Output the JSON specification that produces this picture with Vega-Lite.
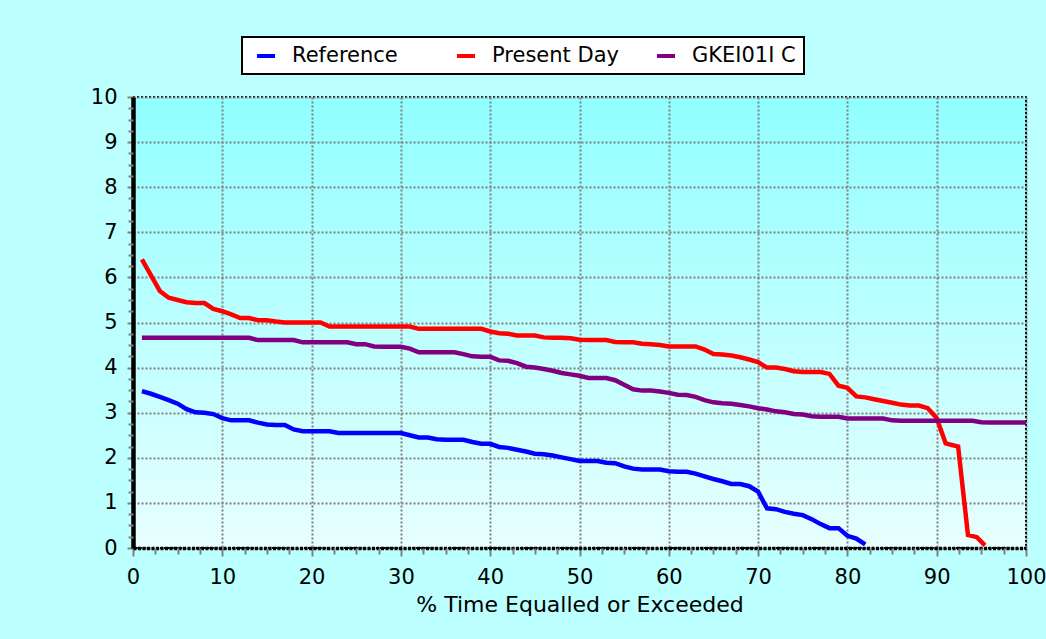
{
  "$schema": "https://vega.github.io/schema/vega-lite/v6.json",
  "width": 893,
  "height": 451,
  "autosize": {"type": "none"},
  "padding": {"left": 133, "top": 97, "right": 20, "bottom": 91},
  "background": "#BCFFFF",
  "config": {
    "font": "DejaVu Sans",
    "view": {
      "fill": {"gradient": "linear", "x1": 0, "y1": 0, "x2": 0, "y2": 1, "stops": [{"offset": 0, "color": "#90FFFF"}, {"offset": 1, "color": "#E8FFFF"}]},
      "stroke": "#000000",
      "strokeDash": [2, 2],
      "strokeWidth": 2
    },
    "legend": {"strokeWidth": 2}
  },
  "data": {
    "values": [
      {"series": "Reference", "pct": 1, "flow": 3.48},
      {"series": "Reference", "pct": 2, "flow": 3.42},
      {"series": "Reference", "pct": 3, "flow": 3.35},
      {"series": "Reference", "pct": 4, "flow": 3.28},
      {"series": "Reference", "pct": 5, "flow": 3.2},
      {"series": "Reference", "pct": 6, "flow": 3.08},
      {"series": "Reference", "pct": 7, "flow": 3.01},
      {"series": "Reference", "pct": 8, "flow": 3.0},
      {"series": "Reference", "pct": 9, "flow": 2.97},
      {"series": "Reference", "pct": 10, "flow": 2.88},
      {"series": "Reference", "pct": 11, "flow": 2.83},
      {"series": "Reference", "pct": 12, "flow": 2.83},
      {"series": "Reference", "pct": 13, "flow": 2.83},
      {"series": "Reference", "pct": 14, "flow": 2.78},
      {"series": "Reference", "pct": 15, "flow": 2.74},
      {"series": "Reference", "pct": 16, "flow": 2.73},
      {"series": "Reference", "pct": 17, "flow": 2.73},
      {"series": "Reference", "pct": 18, "flow": 2.63},
      {"series": "Reference", "pct": 19, "flow": 2.59},
      {"series": "Reference", "pct": 20, "flow": 2.59},
      {"series": "Reference", "pct": 21, "flow": 2.59},
      {"series": "Reference", "pct": 22, "flow": 2.59},
      {"series": "Reference", "pct": 23, "flow": 2.55},
      {"series": "Reference", "pct": 24, "flow": 2.55},
      {"series": "Reference", "pct": 25, "flow": 2.55},
      {"series": "Reference", "pct": 26, "flow": 2.55},
      {"series": "Reference", "pct": 27, "flow": 2.55},
      {"series": "Reference", "pct": 28, "flow": 2.55},
      {"series": "Reference", "pct": 29, "flow": 2.55},
      {"series": "Reference", "pct": 30, "flow": 2.55},
      {"series": "Reference", "pct": 31, "flow": 2.5},
      {"series": "Reference", "pct": 32, "flow": 2.45},
      {"series": "Reference", "pct": 33, "flow": 2.45},
      {"series": "Reference", "pct": 34, "flow": 2.41},
      {"series": "Reference", "pct": 35, "flow": 2.4},
      {"series": "Reference", "pct": 36, "flow": 2.4},
      {"series": "Reference", "pct": 37, "flow": 2.4},
      {"series": "Reference", "pct": 38, "flow": 2.35},
      {"series": "Reference", "pct": 39, "flow": 2.31},
      {"series": "Reference", "pct": 40, "flow": 2.31},
      {"series": "Reference", "pct": 41, "flow": 2.24},
      {"series": "Reference", "pct": 42, "flow": 2.22},
      {"series": "Reference", "pct": 43, "flow": 2.18},
      {"series": "Reference", "pct": 44, "flow": 2.14},
      {"series": "Reference", "pct": 45, "flow": 2.09},
      {"series": "Reference", "pct": 46, "flow": 2.08},
      {"series": "Reference", "pct": 47, "flow": 2.05},
      {"series": "Reference", "pct": 48, "flow": 2.01},
      {"series": "Reference", "pct": 49, "flow": 1.97},
      {"series": "Reference", "pct": 50, "flow": 1.93},
      {"series": "Reference", "pct": 51, "flow": 1.93},
      {"series": "Reference", "pct": 52, "flow": 1.93},
      {"series": "Reference", "pct": 53, "flow": 1.89},
      {"series": "Reference", "pct": 54, "flow": 1.88},
      {"series": "Reference", "pct": 55, "flow": 1.81},
      {"series": "Reference", "pct": 56, "flow": 1.76},
      {"series": "Reference", "pct": 57, "flow": 1.74},
      {"series": "Reference", "pct": 58, "flow": 1.74},
      {"series": "Reference", "pct": 59, "flow": 1.74},
      {"series": "Reference", "pct": 60, "flow": 1.7},
      {"series": "Reference", "pct": 61, "flow": 1.69},
      {"series": "Reference", "pct": 62, "flow": 1.69},
      {"series": "Reference", "pct": 63, "flow": 1.65},
      {"series": "Reference", "pct": 64, "flow": 1.59},
      {"series": "Reference", "pct": 65, "flow": 1.53},
      {"series": "Reference", "pct": 66, "flow": 1.48},
      {"series": "Reference", "pct": 67, "flow": 1.42},
      {"series": "Reference", "pct": 68, "flow": 1.42},
      {"series": "Reference", "pct": 69, "flow": 1.37},
      {"series": "Reference", "pct": 70, "flow": 1.25},
      {"series": "Reference", "pct": 71, "flow": 0.88},
      {"series": "Reference", "pct": 72, "flow": 0.86},
      {"series": "Reference", "pct": 73, "flow": 0.8},
      {"series": "Reference", "pct": 74, "flow": 0.76},
      {"series": "Reference", "pct": 75, "flow": 0.73},
      {"series": "Reference", "pct": 76, "flow": 0.64},
      {"series": "Reference", "pct": 77, "flow": 0.53},
      {"series": "Reference", "pct": 78, "flow": 0.44},
      {"series": "Reference", "pct": 79, "flow": 0.44},
      {"series": "Reference", "pct": 80, "flow": 0.27},
      {"series": "Reference", "pct": 81, "flow": 0.21},
      {"series": "Reference", "pct": 82, "flow": 0.08},
      {"series": "Present Day", "pct": 1, "flow": 6.4},
      {"series": "Present Day", "pct": 2, "flow": 6.05},
      {"series": "Present Day", "pct": 3, "flow": 5.7},
      {"series": "Present Day", "pct": 4, "flow": 5.55},
      {"series": "Present Day", "pct": 5, "flow": 5.5},
      {"series": "Present Day", "pct": 6, "flow": 5.45},
      {"series": "Present Day", "pct": 7, "flow": 5.43},
      {"series": "Present Day", "pct": 8, "flow": 5.43},
      {"series": "Present Day", "pct": 9, "flow": 5.3},
      {"series": "Present Day", "pct": 10, "flow": 5.25},
      {"series": "Present Day", "pct": 11, "flow": 5.18},
      {"series": "Present Day", "pct": 12, "flow": 5.1},
      {"series": "Present Day", "pct": 13, "flow": 5.1},
      {"series": "Present Day", "pct": 14, "flow": 5.05},
      {"series": "Present Day", "pct": 15, "flow": 5.05},
      {"series": "Present Day", "pct": 16, "flow": 5.02},
      {"series": "Present Day", "pct": 17, "flow": 5.0},
      {"series": "Present Day", "pct": 18, "flow": 5.0},
      {"series": "Present Day", "pct": 19, "flow": 5.0},
      {"series": "Present Day", "pct": 20, "flow": 5.0},
      {"series": "Present Day", "pct": 21, "flow": 5.0},
      {"series": "Present Day", "pct": 22, "flow": 4.91},
      {"series": "Present Day", "pct": 23, "flow": 4.91},
      {"series": "Present Day", "pct": 24, "flow": 4.91},
      {"series": "Present Day", "pct": 25, "flow": 4.91},
      {"series": "Present Day", "pct": 26, "flow": 4.91},
      {"series": "Present Day", "pct": 27, "flow": 4.91},
      {"series": "Present Day", "pct": 28, "flow": 4.91},
      {"series": "Present Day", "pct": 29, "flow": 4.91},
      {"series": "Present Day", "pct": 30, "flow": 4.91},
      {"series": "Present Day", "pct": 31, "flow": 4.91},
      {"series": "Present Day", "pct": 32, "flow": 4.86},
      {"series": "Present Day", "pct": 33, "flow": 4.86},
      {"series": "Present Day", "pct": 34, "flow": 4.86},
      {"series": "Present Day", "pct": 35, "flow": 4.86},
      {"series": "Present Day", "pct": 36, "flow": 4.86},
      {"series": "Present Day", "pct": 37, "flow": 4.86},
      {"series": "Present Day", "pct": 38, "flow": 4.86},
      {"series": "Present Day", "pct": 39, "flow": 4.86},
      {"series": "Present Day", "pct": 40, "flow": 4.8},
      {"series": "Present Day", "pct": 41, "flow": 4.76},
      {"series": "Present Day", "pct": 42, "flow": 4.75},
      {"series": "Present Day", "pct": 43, "flow": 4.71},
      {"series": "Present Day", "pct": 44, "flow": 4.71},
      {"series": "Present Day", "pct": 45, "flow": 4.71},
      {"series": "Present Day", "pct": 46, "flow": 4.67},
      {"series": "Present Day", "pct": 47, "flow": 4.66},
      {"series": "Present Day", "pct": 48, "flow": 4.66},
      {"series": "Present Day", "pct": 49, "flow": 4.65},
      {"series": "Present Day", "pct": 50, "flow": 4.62},
      {"series": "Present Day", "pct": 51, "flow": 4.61},
      {"series": "Present Day", "pct": 52, "flow": 4.61},
      {"series": "Present Day", "pct": 53, "flow": 4.61},
      {"series": "Present Day", "pct": 54, "flow": 4.57},
      {"series": "Present Day", "pct": 55, "flow": 4.56},
      {"series": "Present Day", "pct": 56, "flow": 4.56},
      {"series": "Present Day", "pct": 57, "flow": 4.53},
      {"series": "Present Day", "pct": 58, "flow": 4.52},
      {"series": "Present Day", "pct": 59, "flow": 4.5},
      {"series": "Present Day", "pct": 60, "flow": 4.47},
      {"series": "Present Day", "pct": 61, "flow": 4.47},
      {"series": "Present Day", "pct": 62, "flow": 4.47},
      {"series": "Present Day", "pct": 63, "flow": 4.47},
      {"series": "Present Day", "pct": 64, "flow": 4.4},
      {"series": "Present Day", "pct": 65, "flow": 4.3},
      {"series": "Present Day", "pct": 66, "flow": 4.29},
      {"series": "Present Day", "pct": 67, "flow": 4.27},
      {"series": "Present Day", "pct": 68, "flow": 4.23},
      {"series": "Present Day", "pct": 69, "flow": 4.18},
      {"series": "Present Day", "pct": 70, "flow": 4.12},
      {"series": "Present Day", "pct": 71, "flow": 4.0},
      {"series": "Present Day", "pct": 72, "flow": 4.0},
      {"series": "Present Day", "pct": 73, "flow": 3.97},
      {"series": "Present Day", "pct": 74, "flow": 3.92},
      {"series": "Present Day", "pct": 75, "flow": 3.9},
      {"series": "Present Day", "pct": 76, "flow": 3.9},
      {"series": "Present Day", "pct": 77, "flow": 3.9},
      {"series": "Present Day", "pct": 78, "flow": 3.86},
      {"series": "Present Day", "pct": 79, "flow": 3.6},
      {"series": "Present Day", "pct": 80, "flow": 3.55},
      {"series": "Present Day", "pct": 81, "flow": 3.36},
      {"series": "Present Day", "pct": 82, "flow": 3.34},
      {"series": "Present Day", "pct": 83, "flow": 3.3},
      {"series": "Present Day", "pct": 84, "flow": 3.26},
      {"series": "Present Day", "pct": 85, "flow": 3.22},
      {"series": "Present Day", "pct": 86, "flow": 3.18},
      {"series": "Present Day", "pct": 87, "flow": 3.16},
      {"series": "Present Day", "pct": 88, "flow": 3.16},
      {"series": "Present Day", "pct": 89, "flow": 3.1},
      {"series": "Present Day", "pct": 90, "flow": 2.88},
      {"series": "Present Day", "pct": 91, "flow": 2.32},
      {"series": "Present Day", "pct": 92.4, "flow": 2.25},
      {"series": "Present Day", "pct": 93.5, "flow": 0.29},
      {"series": "Present Day", "pct": 94.5, "flow": 0.24},
      {"series": "Present Day", "pct": 95.4, "flow": 0.06},
      {"series": "GKEI01I C", "pct": 1, "flow": 4.66},
      {"series": "GKEI01I C", "pct": 5, "flow": 4.66},
      {"series": "GKEI01I C", "pct": 10, "flow": 4.66},
      {"series": "GKEI01I C", "pct": 13, "flow": 4.66},
      {"series": "GKEI01I C", "pct": 14, "flow": 4.61},
      {"series": "GKEI01I C", "pct": 16, "flow": 4.61},
      {"series": "GKEI01I C", "pct": 18, "flow": 4.61},
      {"series": "GKEI01I C", "pct": 19, "flow": 4.56},
      {"series": "GKEI01I C", "pct": 22, "flow": 4.56},
      {"series": "GKEI01I C", "pct": 24, "flow": 4.56},
      {"series": "GKEI01I C", "pct": 25, "flow": 4.52},
      {"series": "GKEI01I C", "pct": 26, "flow": 4.52},
      {"series": "GKEI01I C", "pct": 27, "flow": 4.47},
      {"series": "GKEI01I C", "pct": 28, "flow": 4.46},
      {"series": "GKEI01I C", "pct": 29, "flow": 4.46},
      {"series": "GKEI01I C", "pct": 30, "flow": 4.46},
      {"series": "GKEI01I C", "pct": 31, "flow": 4.42},
      {"series": "GKEI01I C", "pct": 32, "flow": 4.34},
      {"series": "GKEI01I C", "pct": 34, "flow": 4.34},
      {"series": "GKEI01I C", "pct": 36, "flow": 4.34},
      {"series": "GKEI01I C", "pct": 37, "flow": 4.3},
      {"series": "GKEI01I C", "pct": 38, "flow": 4.25},
      {"series": "GKEI01I C", "pct": 39, "flow": 4.24},
      {"series": "GKEI01I C", "pct": 40, "flow": 4.24},
      {"series": "GKEI01I C", "pct": 41, "flow": 4.16},
      {"series": "GKEI01I C", "pct": 42, "flow": 4.15},
      {"series": "GKEI01I C", "pct": 43, "flow": 4.1},
      {"series": "GKEI01I C", "pct": 44, "flow": 4.02},
      {"series": "GKEI01I C", "pct": 45, "flow": 4.0},
      {"series": "GKEI01I C", "pct": 46, "flow": 3.97},
      {"series": "GKEI01I C", "pct": 47, "flow": 3.93},
      {"series": "GKEI01I C", "pct": 48, "flow": 3.88},
      {"series": "GKEI01I C", "pct": 49, "flow": 3.85},
      {"series": "GKEI01I C", "pct": 50, "flow": 3.82},
      {"series": "GKEI01I C", "pct": 51, "flow": 3.77},
      {"series": "GKEI01I C", "pct": 52, "flow": 3.77},
      {"series": "GKEI01I C", "pct": 53, "flow": 3.77},
      {"series": "GKEI01I C", "pct": 54, "flow": 3.72},
      {"series": "GKEI01I C", "pct": 55, "flow": 3.62},
      {"series": "GKEI01I C", "pct": 56, "flow": 3.52},
      {"series": "GKEI01I C", "pct": 57, "flow": 3.49},
      {"series": "GKEI01I C", "pct": 58, "flow": 3.49},
      {"series": "GKEI01I C", "pct": 59, "flow": 3.47},
      {"series": "GKEI01I C", "pct": 60, "flow": 3.44},
      {"series": "GKEI01I C", "pct": 61, "flow": 3.4},
      {"series": "GKEI01I C", "pct": 62, "flow": 3.39},
      {"series": "GKEI01I C", "pct": 63, "flow": 3.35},
      {"series": "GKEI01I C", "pct": 64, "flow": 3.28},
      {"series": "GKEI01I C", "pct": 65, "flow": 3.23},
      {"series": "GKEI01I C", "pct": 66, "flow": 3.21},
      {"series": "GKEI01I C", "pct": 67, "flow": 3.2},
      {"series": "GKEI01I C", "pct": 68, "flow": 3.17},
      {"series": "GKEI01I C", "pct": 69, "flow": 3.14},
      {"series": "GKEI01I C", "pct": 70, "flow": 3.1},
      {"series": "GKEI01I C", "pct": 71, "flow": 3.07},
      {"series": "GKEI01I C", "pct": 72, "flow": 3.03},
      {"series": "GKEI01I C", "pct": 73, "flow": 3.01},
      {"series": "GKEI01I C", "pct": 74, "flow": 2.97},
      {"series": "GKEI01I C", "pct": 75, "flow": 2.96},
      {"series": "GKEI01I C", "pct": 76, "flow": 2.92},
      {"series": "GKEI01I C", "pct": 77, "flow": 2.91},
      {"series": "GKEI01I C", "pct": 79, "flow": 2.91},
      {"series": "GKEI01I C", "pct": 80, "flow": 2.87},
      {"series": "GKEI01I C", "pct": 82, "flow": 2.87},
      {"series": "GKEI01I C", "pct": 84, "flow": 2.87},
      {"series": "GKEI01I C", "pct": 85, "flow": 2.83},
      {"series": "GKEI01I C", "pct": 86, "flow": 2.82},
      {"series": "GKEI01I C", "pct": 90, "flow": 2.82},
      {"series": "GKEI01I C", "pct": 94, "flow": 2.82},
      {"series": "GKEI01I C", "pct": 95, "flow": 2.79},
      {"series": "GKEI01I C", "pct": 96, "flow": 2.78},
      {"series": "GKEI01I C", "pct": 100, "flow": 2.78}
    ]
  },
  "layer": [
    {
      "mark": {"type": "line", "strokeWidth": 4.5, "clip": true, "strokeJoin": "miter"},
      "encoding": {
        "x": {
          "field": "pct", "type": "quantitative",
          "scale": {"domain": [0, 100], "nice": false, "zero": false},
          "axis": {
            "title": "% Time Equalled or Exceeded",
            "values": [0, 10, 20, 30, 40, 50, 60, 70, 80, 90, 100],
            "grid": true, "gridColor": "#808080", "gridDash": [2, 2], "gridWidth": 2, "gridOpacity": 1,
            "domainColor": "#000000", "domainWidth": 3.5, "domainDash": [3, 1.5],
            "tickColor": "#808080", "tickWidth": 2, "tickSize": 8,
            "labelFontSize": 21, "labelColor": "#000000", "labelPadding": 10, "labelFlush": false, "labelOverlap": false,
            "titleFontSize": 22, "titleFontWeight": "normal", "titleColor": "#000000", "titlePadding": 7
          }
        },
        "y": {
          "field": "flow", "type": "quantitative",
          "scale": {"domain": [0, 10], "nice": false},
          "axis": {
            "title": null,
            "values": [0, 1, 2, 3, 4, 5, 6, 7, 8, 9, 10],
            "grid": true, "gridColor": "#808080", "gridDash": [2, 2], "gridWidth": 2, "gridOpacity": 1,
            "domainColor": "#000000", "domainWidth": 4.5,
            "tickColor": "#808080", "tickWidth": 2, "tickSize": 6,
            "labelFontSize": 21, "labelColor": "#000000", "labelPadding": 10, "labelFlush": false, "labelOverlap": false
          }
        },
        "color": {
          "field": "series", "type": "nominal",
          "scale": {"domain": ["Reference", "Present Day", "GKEI01I C"], "range": ["#0000FF", "#FF0000", "#800080"]},
          "legend": {
            "orient": "none", "legendX": 109, "legendY": -60, "direction": "horizontal", "columns": 3,
            "title": null, "symbolType": "stroke", "symbolStrokeWidth": 4, "symbolSize": 324, "symbolOffset": 5,
            "labelFontSize": 21, "labelColor": "#000000", "labelOffset": 15,
            "fillColor": "#FFFFFF", "strokeColor": "#000000", "padding": 8,
            "columnPadding": 30, "gridAlign": "all"
          }
        }
      }
    },
    {
      "mark": {"type": "line", "opacity": 0},
      "encoding": {
        "x": {
          "field": "pct", "type": "quantitative",
          "axis": {
            "orient": "bottom", "title": null, "labels": false, "grid": false, "domain": false,
            "values": [2.5, 5, 7.5, 12.5, 15, 17.5, 22.5, 25, 27.5, 32.5, 35, 37.5, 42.5, 45, 47.5, 52.5, 55, 57.5, 62.5, 65, 67.5, 72.5, 75, 77.5, 82.5, 85, 87.5, 92.5, 95, 97.5],
            "tickColor": "#808080", "tickWidth": 2, "tickSize": 6
          }
        },
        "y": {
          "field": "flow", "type": "quantitative",
          "axis": {
            "orient": "left", "title": null, "labels": false, "grid": false, "domain": false,
            "values": [0.25, 0.5, 0.75, 1.25, 1.5, 1.75, 2.25, 2.5, 2.75, 3.25, 3.5, 3.75, 4.25, 4.5, 4.75, 5.25, 5.5, 5.75, 6.25, 6.5, 6.75, 7.25, 7.5, 7.75, 8.25, 8.5, 8.75, 9.25, 9.5, 9.75],
            "tickColor": "#808080", "tickWidth": 2, "tickSize": 5
          }
        },
        "detail": {"field": "series", "type": "nominal"}
      }
    }
  ],
  "resolve": {"axis": {"x": "independent", "y": "independent"}}
}
